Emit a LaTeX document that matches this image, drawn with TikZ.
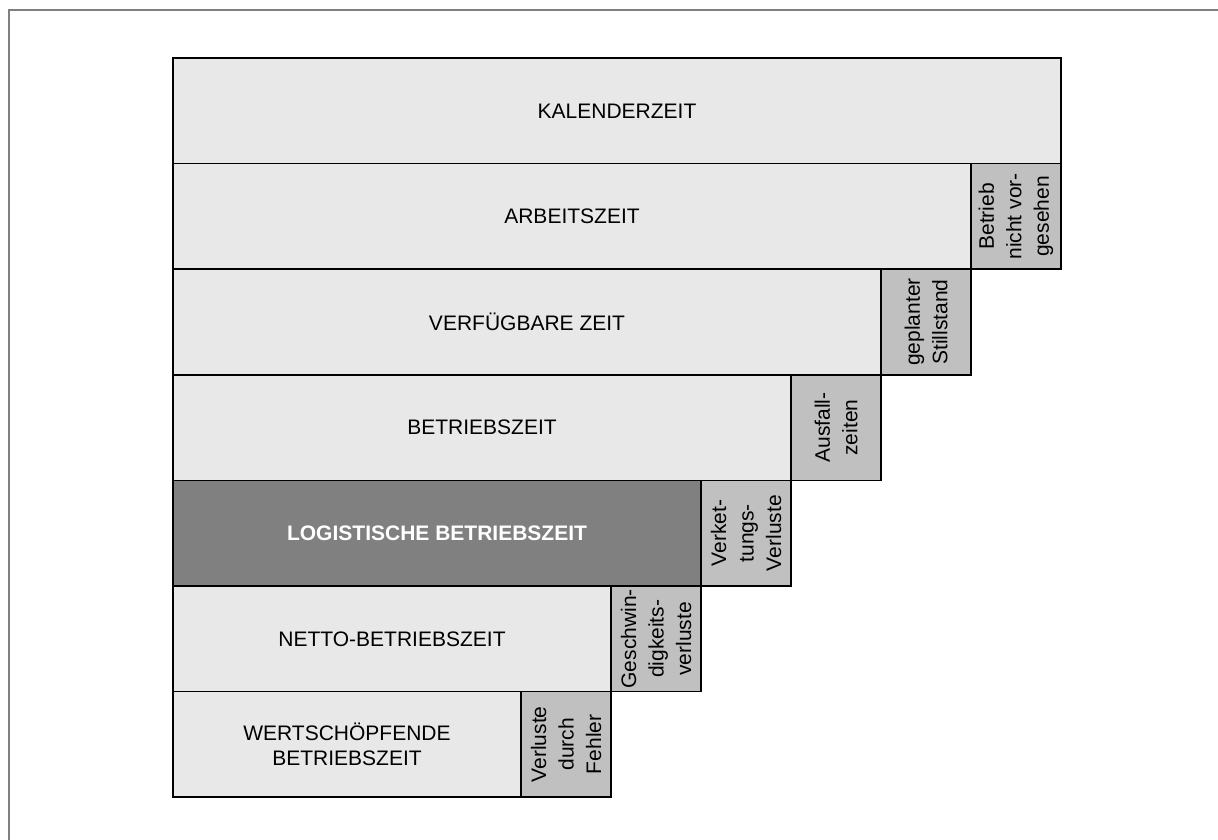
\documentclass[tikz,border=0pt]{standalone}
\usepackage{fontspec}
\setmainfont{Liberation Sans}
\definecolor{lightfill}{HTML}{E8E8E8}
\definecolor{lossfill}{HTML}{C0C0C0}
\definecolor{darkfill}{HTML}{808080}
\definecolor{framegray}{HTML}{808080}
\begin{document}
\begin{tikzpicture}[x=1pt,y=-1pt,
  timebox/.style={draw=black, line width=1.5pt, fill=lightfill,
    minimum height=105.6pt, inner sep=0pt, outer sep=0pt, anchor=north west,
    font=\fontsize{21}{25.5}\selectfont, align=center},
  keybox/.style={timebox, fill=darkfill, text=white,
    font=\fontsize{21}{25.5}\selectfont\bfseries},
  lossbox/.style={draw=black, line width=1.5pt, fill=lossfill, rotate=90,
    minimum width=105.6pt, minimum height=90pt, inner sep=0pt, outer sep=0pt,
    font=\fontsize{21}{27.5}\selectfont, align=center},
]
\clip (0,0) rectangle (1218,840);
% outer frame
\draw[framegray, line width=2pt] (9,860) -- (9,10) -- (1240,10);

% time categories, one row each
\node[timebox, minimum width=888pt] (kal) at (173,58) {KALENDERZEIT};
\node[timebox, minimum width=798pt] (arb) at (173,163.6) {ARBEITSZEIT};
\node[timebox, minimum width=708pt] (verf) at (173,269.2) {VERFÜGBARE ZEIT};
\node[timebox, minimum width=618pt] (betr) at (173,374.8) {BETRIEBSZEIT};
\node[keybox, minimum width=528pt] (log) at (173,480.4) {LOGISTISCHE BETRIEBSZEIT};
\node[timebox, minimum width=438pt] (netto) at (173,586) {NETTO-BETRIEBSZEIT};
\node[timebox, minimum width=348pt] (wert) at (173,691.6) {WERTSCHÖPFENDE\\BETRIEBSZEIT};

% losses split off at the end of each row
\node[lossbox] (nv) at (1016,216.4) {Betrieb\\nicht vor-\\gesehen};
\node[lossbox] (gs) at (926,322) {geplanter\\Stillstand};
\node[lossbox] (af) at (836,427.6) {Ausfall-\\zeiten};
\node[lossbox] (vk) at (746,533.2) {Verket-\\tungs-\\Verluste};
\node[lossbox] (gv) at (656,638.8) {Geschwin-\\digkeits-\\verluste};
\node[lossbox] (fe) at (566,744.4) {Verluste\\durch\\Fehler};
\end{tikzpicture}
\end{document}
